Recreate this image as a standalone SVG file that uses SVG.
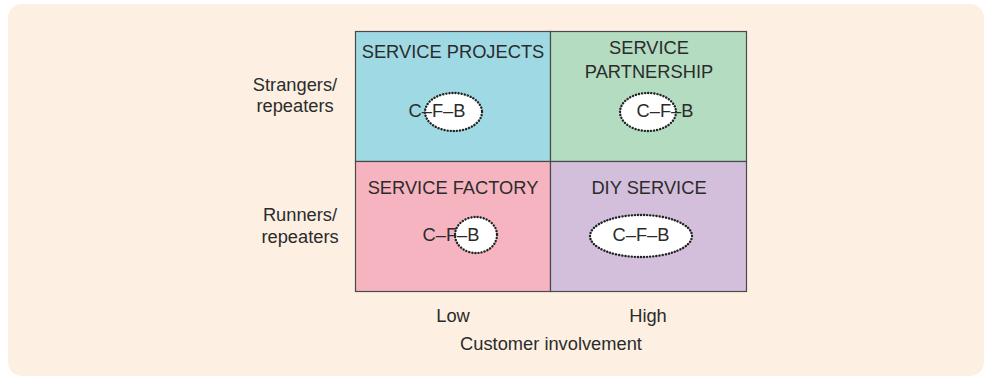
<svg xmlns="http://www.w3.org/2000/svg" width="992" height="379" viewBox="0 0 992 379">
<style>
text{font-family:"Liberation Sans",Arial,sans-serif;font-size:18.3px;fill:#2b2b2b}
.t{text-anchor:middle}
.cell{stroke:#4a4a4a;stroke-width:1.2}
.oval{fill:#ffffff;stroke:#222222;stroke-width:2.4;stroke-dasharray:0.1 3;stroke-linecap:round}
</style>
<rect x="8" y="4" width="976" height="372" rx="14" fill="#fdf0e2"/>
<g id="service-projects">
<rect class="cell" x="355.5" y="31.5" width="195" height="130" fill="#9fd9e4"/>
<text class="t" x="453" y="58">SERVICE PROJECTS</text>
<ellipse class="oval" cx="453.5" cy="112" rx="28.5" ry="19"/>
<text class="t" x="437" y="117">C–F–B</text>
</g>
<g id="service-partnership">
<rect class="cell" x="550.5" y="31.5" width="196" height="130" fill="#b3dcc1"/>
<text class="t" x="649" y="54">SERVICE</text>
<text class="t" x="649" y="78">PARTNERSHIP</text>
<ellipse class="oval" cx="648" cy="112" rx="28" ry="19"/>
<text class="t" x="665" y="117">C–F–B</text>
</g>
<g id="service-factory">
<rect class="cell" x="355.5" y="161.5" width="195" height="130" fill="#f6b4c1"/>
<text class="t" x="453" y="194">SERVICE FACTORY</text>
<ellipse class="oval" cx="476" cy="235" rx="21" ry="18"/>
<text class="t" x="451" y="241">C–F–B</text>
</g>
<g id="diy-service">
<rect class="cell" x="550.5" y="161.5" width="196" height="130" fill="#d3bedb"/>
<text class="t" x="649" y="194">DIY SERVICE</text>
<ellipse class="oval" cx="641" cy="236" rx="51" ry="21"/>
<text class="t" x="641" y="241">C–F–B</text>
</g>
<g id="labels">
<text class="t" x="295" y="91">Strangers/</text>
<text class="t" x="295" y="112">repeaters</text>
<text class="t" x="300" y="221">Runners/</text>
<text class="t" x="300" y="243">repeaters</text>
<text class="t" x="453" y="322">Low</text>
<text class="t" x="648" y="322">High</text>
<text class="t" x="551" y="350">Customer involvement</text>
</g>
<g id="connectors"></g>
</svg>
